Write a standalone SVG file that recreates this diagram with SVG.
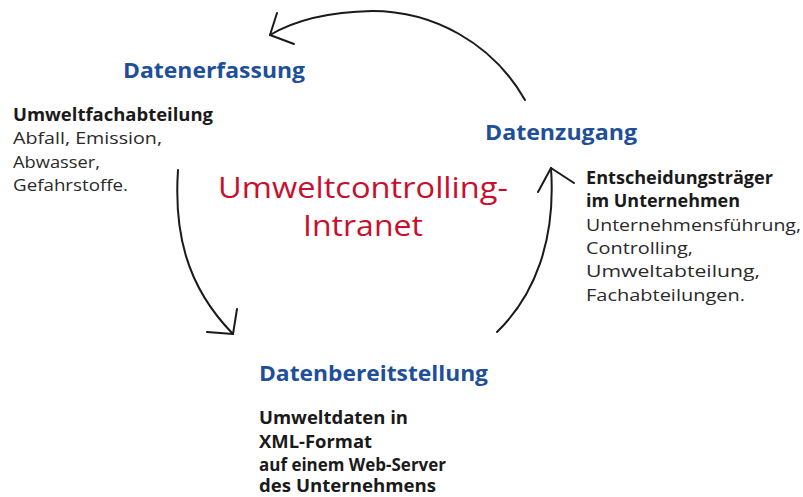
<svg xmlns="http://www.w3.org/2000/svg" width="803" height="497" viewBox="0 0 803 497">
<style>
text{font-family:"Open Sans","Noto Sans","Liberation Sans",sans-serif}
.h{font-size:22px;font-weight:bold;fill:#1f4f99}
.b{font-size:17px;font-weight:bold;fill:#1a1a1a}
.r{font-size:17px;fill:#2a2a2a}
.c{font-size:29px;fill:#c8102e}
.ln{fill:none;stroke:#1a1a1a;stroke-width:2;stroke-linecap:round;stroke-linejoin:round}
</style>
<rect width="803" height="497" fill="#ffffff"/>
<g id="connectors">
<path class="ln" d="M525,100 C492,42 432,11 372,11 C322,12 292,22 270,35"/>
<polyline class="ln" points="277,13 270,35 294,44"/>
<path class="ln" d="M178,170 C174,230 185,285 233,334"/>
<polyline class="ln" points="237,309 233,334 207,332"/>
<path class="ln" d="M497,332 C535,295 556,240 551,168"/>
<polyline class="ln" points="538,192 551,168 574,183"/>
</g>
<g id="center">
<text class="c" x="218" y="198" textLength="290" lengthAdjust="spacingAndGlyphs">Umweltcontrolling-</text>
<text class="c" x="303" y="236" textLength="120" lengthAdjust="spacingAndGlyphs">Intranet</text>
</g>
<g id="datenerfassung">
<text class="h" x="123" y="78" textLength="182" lengthAdjust="spacingAndGlyphs">Datenerfassung</text>
<text class="b" x="13" y="120.5" textLength="200" lengthAdjust="spacingAndGlyphs">Umweltfachabteilung</text>
<text class="r" x="13" y="144" textLength="149" lengthAdjust="spacingAndGlyphs">Abfall, Emission,</text>
<text class="r" x="13" y="167.5" textLength="87" lengthAdjust="spacingAndGlyphs">Abwasser,</text>
<text class="r" x="13" y="191" textLength="115" lengthAdjust="spacingAndGlyphs">Gefahrstoffe.</text>
</g>
<g id="datenzugang">
<text class="h" x="485" y="140" textLength="152" lengthAdjust="spacingAndGlyphs">Datenzugang</text>
<text class="b" x="586" y="184" textLength="187" lengthAdjust="spacingAndGlyphs">Entscheidungsträger</text>
<text class="b" x="586" y="207" textLength="154" lengthAdjust="spacingAndGlyphs">im Unternehmen</text>
<text class="r" x="586" y="231" textLength="215" lengthAdjust="spacingAndGlyphs">Unternehmensführung,</text>
<text class="r" x="586" y="254" textLength="107" lengthAdjust="spacingAndGlyphs">Controlling,</text>
<text class="r" x="586" y="277" textLength="174" lengthAdjust="spacingAndGlyphs">Umweltabteilung,</text>
<text class="r" x="586" y="301" textLength="159" lengthAdjust="spacingAndGlyphs">Fachabteilungen.</text>
</g>
<g id="datenbereitstellung">
<text class="h" x="259" y="381" textLength="229" lengthAdjust="spacingAndGlyphs">Datenbereitstellung</text>
<text class="b" x="259" y="424" textLength="149" lengthAdjust="spacingAndGlyphs">Umweltdaten in</text>
<text class="b" x="259" y="448" textLength="113" lengthAdjust="spacingAndGlyphs">XML-Format</text>
<text class="b" x="259" y="471" textLength="187" lengthAdjust="spacingAndGlyphs">auf einem Web-Server</text>
<text class="b" x="259" y="492" textLength="177" lengthAdjust="spacingAndGlyphs">des Unternehmens</text>
</g>
</svg>
